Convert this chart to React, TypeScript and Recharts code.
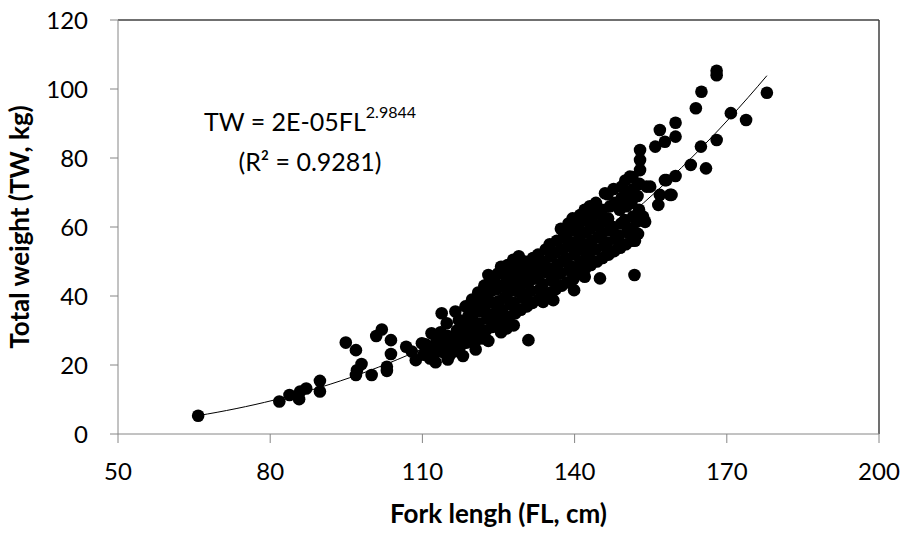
import React from "react";
import { ScatterChart, Scatter, XAxis, YAxis, ReferenceLine } from "recharts";

// Fork length (cm), total weight (kg) pairs
const SMALL_FISH: [number, number][] = [
  [65.8, 5.3], [81.8, 9.4], [83.8, 11.3], [85.7, 10.1], [85.9, 12.3], [87.1, 13.2],
  [89.8, 15.4], [89.8, 12.3], [94.9, 26.5], [96.9, 24.3], [96.9, 17.1], [97.1, 18.5],
  [98.0, 20.3], [100.0, 17.1], [100.9, 28.4], [102.0, 30.3], [103.0, 18.3], [103.0, 19.5],
  [103.8, 27.2], [103.8, 23.2], [106.8, 25.3], [107.9, 23.9], [108.7, 21.4], [109.9, 26.3],
];

const CLUSTER_110: [number, number][] = [
  [110.2, 23], [110.6, 26], [111.0, 24.5], [111.5, 21.9], [111.8, 29.2], [112.0, 22.5],
  [112.3, 25.5], [112.6, 20.8], [112.8, 27], [113.2, 24], [113.6, 29.5], [113.8, 35],
  [114.0, 26], [114.4, 23.5], [114.8, 32.1], [114.9, 28.5], [115.0, 21.6], [115.4, 22.9],
  [115.6, 25], [116.0, 27.5], [116.4, 24], [116.5, 35.5], [116.8, 30], [117.2, 33],
  [117.4, 27.2], [117.5, 25.5], [117.9, 28.5], [118.0, 22.6], [118.3, 31.5], [118.5, 37],
  [118.7, 26.5], [119.0, 34], [119.3, 29], [119.7, 27], [119.8, 39], [120.0, 32],
  [120.3, 36], [120.5, 24.5], [120.6, 30], [120.9, 27.5], [121.0, 41], [122.0, 27.7],
  [123.0, 46.1],
];

const CLUSTER_121: [number, number][] = [
  [120.2, 28], [120.5, 31.5], [120.1, 35], [121.4, 29], [121.1, 32], [121.6, 35.5], [121.3, 38.5],
  [122.5, 30], [122.8, 33.5], [122.3, 37], [122.6, 40], [122.2, 43], [123.0, 27],
  [123.7, 31], [123.4, 34.5], [123.9, 38], [123.6, 41.5], [123.3, 44.5], [124.8, 32],
  [124.5, 35], [125.0, 38.5], [124.7, 42], [124.3, 44], [124.9, 46.5], [125.5, 29.5],
  [125.5, 48.5], [126.0, 33], [125.7, 36], [126.2, 39.5], [125.9, 43], [126.3, 46],
  [126.6, 30.6], [126.8, 49], [127.1, 34], [127.4, 37.5], [126.9, 41], [127.3, 44],
  [127.0, 47], [127.9, 50.5], [128.0, 31.5], [128.3, 35], [128.0, 38], [128.5, 41.5],
  [128.2, 45], [128.6, 48], [129.0, 51.5], [129.4, 36], [129.7, 39.5], [129.2, 43],
  [129.5, 46], [129.8, 49], [130.6, 37], [130.3, 40.5], [130.8, 44], [130.5, 47],
  [130.2, 50], [130.9, 27.2],
];

const CLUSTER_131: [number, number][] = [
  [131.7, 38], [131.4, 41.5], [131.9, 45], [131.6, 48], [131.8, 51], [132.9, 39],
  [133.2, 42], [132.7, 45.5], [133.0, 49], [132.8, 52], [134.0, 40], [133.7, 43.5],
  [134.2, 47], [133.9, 50], [134.3, 53.5], [133.8, 38.3], [135.2, 41], [135.5, 44.5],
  [135.0, 48], [135.3, 51.5], [135.1, 55], [135.8, 38.8], [136.3, 42], [136.0, 45.5],
  [136.6, 49], [136.2, 52.5], [136.5, 56], [137.5, 43], [137.2, 46.5], [137.7, 50],
  [137.4, 53.5], [137.8, 57], [137.3, 59.5], [138.6, 44], [138.9, 47.5], [138.4, 51],
  [138.7, 54.5], [138.5, 58], [138.8, 61], [139.8, 45], [139.5, 48.5], [140.0, 52],
  [139.7, 55.5], [140.1, 59], [139.6, 62.5], [139.9, 41.7], [140.9, 47], [141.2, 50],
  [140.7, 53.5], [141.0, 57], [140.8, 60.5], [141.1, 63.5], [141.7, 46.1],
];

const CLUSTER_142: [number, number][] = [
  [142.1, 48], [142.4, 51.5], [141.9, 55], [142.2, 58.5], [142.5, 62], [142.0, 65],
  [142.0, 45.6], [143.2, 49], [142.9, 52.5], [143.4, 56], [143.1, 59.5], [143.5, 63],
  [143.0, 66], [144.4, 50], [144.1, 53.5], [144.6, 57], [144.3, 60.5], [144.7, 64],
  [144.2, 67], [145.0, 45.1], [145.5, 51], [145.8, 54.5], [145.3, 58], [145.6, 61.5],
  [145.4, 65], [146.0, 69.8], [146.7, 52], [146.4, 55.5], [146.9, 59], [146.6, 62.5],
  [147.0, 66], [146.5, 69.5], [147.8, 53], [148.1, 56.5], [147.6, 60], [148.0, 67],
  [147.7, 71], [149.0, 54], [148.7, 57.5], [149.2, 61], [148.9, 65], [149.3, 68.5],
  [149.3, 71.7], [150.1, 55], [150.4, 58.5], [149.9, 62], [150.2, 66], [150.5, 70],
  [150.0, 73.5], [150.9, 74.6], [151.3, 56], [151.0, 59.5], [151.5, 63], [151.2, 67],
  [151.6, 71], [151.4, 74.5], [151.8, 46.1], [151.9, 56], [152.5, 58], [152.2, 61.5],
  [152.7, 65], [152.4, 69], [152.8, 72.5], [152.9, 76.5], [152.9, 79.4], [152.9, 82.3],
  [153.5, 63], [153.9, 61.5], [154.2, 71.7], [154.9, 71.7],
];

const LARGE_FISH: [number, number][] = [
  [155.9, 83.3], [156.5, 66.4], [156.8, 69.3], [156.8, 88.1], [157.8, 84.7], [157.8, 73.6],
  [158.1, 73.6], [158.8, 69.3], [159.1, 69.3], [159.9, 74.8], [159.9, 86.2], [159.9, 90.2],
  [162.9, 78.0], [163.9, 94.4], [164.9, 83.3], [165.0, 99.2], [165.9, 77.0], [168.0, 85.2],
  [168.0, 104.0], [168.0, 105.3], [170.8, 93.0], [173.8, 91.0], [177.9, 98.9],
];

const X_TICKS = [50, 80, 110, 140, 170, 200];
const Y_TICKS = [0, 20, 40, 60, 80, 100, 120];

// Power trend line TW = a * FL^b
const TREND_A = 2e-5;
const TREND_B = 2.9844;

const points = [
  ...SMALL_FISH, ...CLUSTER_110, ...CLUSTER_121, ...CLUSTER_131, ...CLUSTER_142, ...LARGE_FISH,
].map(([fl, tw]) => ({ fl, tw }));

const flValues = points.map((p) => p.fl);
const flMin = Math.min(...flValues);
const flMax = Math.max(...flValues);
const trend: { fl: number; tw: number }[] = [];
for (let i = 0; i <= 60; i++) {
  const fl = flMin + ((flMax - flMin) * i) / 60;
  trend.push({ fl, tw: TREND_A * Math.pow(fl, TREND_B) });
}

const FONT = "Lato, 'Noto Sans', sans-serif";
const AXIS_GRAY = "#868686";

const Dot = (props: any) => <circle cx={props.cx} cy={props.cy} r={6.3} fill="#000" />;
const NoDot = () => <g />;

export default function App() {
  return (
    <div
      style={{
        position: "absolute",
        left: 0,
        top: 0,
        width: 906,
        height: 533,
        overflow: "hidden",
        background: "#fff",
        fontFamily: FONT,
      }}
    >
      <ScatterChart width={906} height={533} margin={{ top: 20, right: 27, left: 0, bottom: 0 }}>
        <XAxis
          type="number"
          dataKey="fl"
          domain={[50, 200]}
          ticks={X_TICKS}
          allowDataOverflow
          height={99}
          stroke={AXIS_GRAY}
          tickLine={{ stroke: AXIS_GRAY }}
          tickSize={9}
          tickMargin={20}
          tick={{ fill: "#000", fontSize: 24, fontFamily: FONT }}
          label={{
            content: (p: any) => {
              const vb = p.viewBox || { x: 118, y: 434, width: 761 };
              return (
                <text
                  x={vb.x + vb.width / 2}
                  y={vb.y + 89}
                  textAnchor="middle"
                  fontSize={26}
                  fontWeight="bold"
                  fontFamily={FONT}
                  fill="#000"
                >
                  Fork lengh (FL, cm)
                </text>
              );
            },
          }}
        />
        <YAxis
          type="number"
          dataKey="tw"
          domain={[0, 120]}
          ticks={Y_TICKS}
          allowDataOverflow
          width={118}
          stroke={AXIS_GRAY}
          tickLine={{ stroke: AXIS_GRAY }}
          tickSize={8}
          tickMargin={22}
          tick={{ fill: "#000", fontSize: 24, fontFamily: FONT }}
          label={{
            content: (p: any) => {
              const vb = p.viewBox || { x: 0, y: 20, height: 414 };
              const cx = vb.x + 29;
              const cy = vb.y + vb.height / 2;
              return (
                <text
                  x={cx}
                  y={cy}
                  transform={`rotate(-90 ${cx} ${cy})`}
                  textAnchor="middle"
                  fontSize={26}
                  fontWeight="bold"
                  fontFamily={FONT}
                  fill="#000"
                >
                  Total weight (TW, kg)
                </text>
              );
            },
          }}
        />
        <ReferenceLine y={120} stroke="#404040" strokeWidth={1.5} />
        <ReferenceLine x={200} stroke="#404040" strokeWidth={1.5} />
        <Scatter data={points} shape={<Dot />} isAnimationActive={false} />
        <Scatter
          data={trend}
          line={{ stroke: "#000", strokeWidth: 1 }}
          lineType="joint"
          shape={<NoDot />}
          isAnimationActive={false}
        />
      </ScatterChart>
      <div
        style={{
          position: "absolute",
          left: 310,
          top: 103,
          transform: "translateX(-50%)",
          textAlign: "center",
          whiteSpace: "nowrap",
          fontSize: 25,
          lineHeight: "36px",
          color: "#000",
        }}
      >
        <div>
          TW = 2E-05FL
          <span style={{ fontSize: 16, position: "relative", top: -13 }}>2.9844</span>
        </div>
        <div>(R² = 0.9281)</div>
      </div>
    </div>
  );
}
